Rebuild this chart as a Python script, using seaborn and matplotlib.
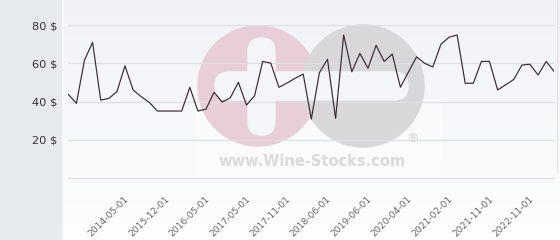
import numpy as np
import pandas as pd
import matplotlib
matplotlib.use("Agg")
import matplotlib.pyplot as plt
import matplotlib.transforms as mtransforms
from matplotlib.patches import Circle, FancyBboxPatch, Rectangle
import seaborn as sns

# ---- data ----
prices = [43.8, 39.1, 61.7, 70.9, 40.8, 41.7, 45.2, 58.7, 46.1, 42.6,
          39.6, 35.1, 35.1, 35.1, 35.1, 47.5, 35.1, 36.1, 44.9, 39.8,
          42.0, 50.1, 38.2, 43.1, 61.0, 60.1, 47.5, 49.7, 52.2, 54.4,
          30.9, 55.1, 62.1, 31.3, 74.8, 55.6, 65.2, 57.4, 69.4, 61.0,
          64.8, 47.5, 55.5, 63.4, 60.0, 58.1, 69.9, 73.6, 74.8, 49.6,
          49.6, 61.0, 61.0, 46.1, 48.8, 51.6, 59.1, 59.5, 53.9, 61.0,
          55.6]
tick_idx = [7, 12, 17, 22, 27, 32, 37, 42, 47, 52, 57]
tick_labels = ["2014-05-01", "2015-12-01", "2016-05-01", "2017-05-01",
               "2017-11-01", "2018-06-01", "2019-06-01", "2020-04-01",
               "2021-02-01", "2021-11-01", "2022-11-01"]
y_ticks = [20, 40, 60, 80]
y_labels = ["20 $", "40 $", "60 $", "80 $"]

df = pd.DataFrame({"idx": np.arange(len(prices)), "price": prices})

sns.set_theme(style="white")
plt.rcParams['font.family'] = ['DejaVu Sans']

W, H = 560, 240
fig = plt.figure(figsize=(W / 100, H / 100), dpi=100)

# background layer
bg = fig.add_axes([0, 0, 1, 1], zorder=0)
bg.set_xlim(0, W)
bg.set_ylim(H, 0)
bg.axis("off")
grad = np.linspace(0, 1, 100)[:, None]
top = np.array([0.945, 0.950, 0.969])
bot = np.array([0.995, 0.995, 0.998])
img = top + (bot - top) * grad[..., None]
bg.imshow(img, extent=[62, W, H, 0], aspect="auto", zorder=0)
bg.add_patch(Rectangle((0, 0), 62, H, color="#e6eaed", zorder=1))
bg.plot([62.5, 62.5], [0, H], color="#f8f9fa", lw=1.2, zorder=2)
bg.plot([556.5, 556.5], [0, 172], color="#e2e2e2", lw=0.8, zorder=2)

# watermark
bg.add_patch(Rectangle((196, 100), 244, 76, color="white", alpha=0.4, zorder=2))
bg.add_patch(Circle((258, 86), 60, color="#e8ced6", zorder=3))
bg.add_patch(Circle((363, 86), 61, color="#d8d8da", zorder=3))
bg.add_patch(FancyBboxPatch((248, 38), 27, 97,
                            boxstyle="round,pad=0,rounding_size=13.5",
                            color="#f4f5f8", zorder=4))
bg.add_patch(FancyBboxPatch((215, 72), 193, 28,
                            boxstyle="round,pad=0,rounding_size=14",
                            color="#f4f5f8", zorder=4))
bg.text(312, 161, "www.Wine-Stocks.com", ha="center", va="center",
        fontsize=10.5, fontweight="bold", color="#dadada", zorder=4)
bg.text(413, 139, "®", ha="center", va="center", fontsize=9,
        color="#d2d2d2", zorder=4)

# main axes
x0, x1 = 68.3, 554.3
y0, y1 = 178.3, 25.0
ax = fig.add_axes([x0 / W, (H - y0) / H, (x1 - x0) / W, (y0 - y1) / H], zorder=5)
ax.patch.set_alpha(0)
sns.lineplot(data=df, x="idx", y="price", ax=ax, color="#3a2833",
             linewidth=0.85, zorder=6)
ax.set_xlim(0, len(prices) - 1)
ax.set_ylim(0, 80)
for v in [0] + y_ticks:
    ax.axhline(v, color="#dedfe2", lw=0.9, zorder=1, clip_on=False)
for s in ax.spines.values():
    s.set_visible(False)
ax.set_xlabel("")
ax.set_ylabel("")
ax.set_yticks(y_ticks)
ax.set_yticklabels(y_labels, fontsize=8.2, color="#333333")
ax.tick_params(axis="y", length=0, pad=8)
ax.set_xticks(tick_idx)
ax.set_xticklabels(tick_labels, fontsize=6.6, color="#666666",
                   rotation=45, ha="right", va="center",
                   rotation_mode="anchor")
ax.tick_params(axis="x", length=0, pad=14)
offset = mtransforms.ScaledTranslation(2 / 100, 0, fig.dpi_scale_trans)
for lab in ax.get_xticklabels():
    lab.set_transform(lab.get_transform() + offset)
ax.grid(False)

fig.savefig("out.png", dpi=100)
